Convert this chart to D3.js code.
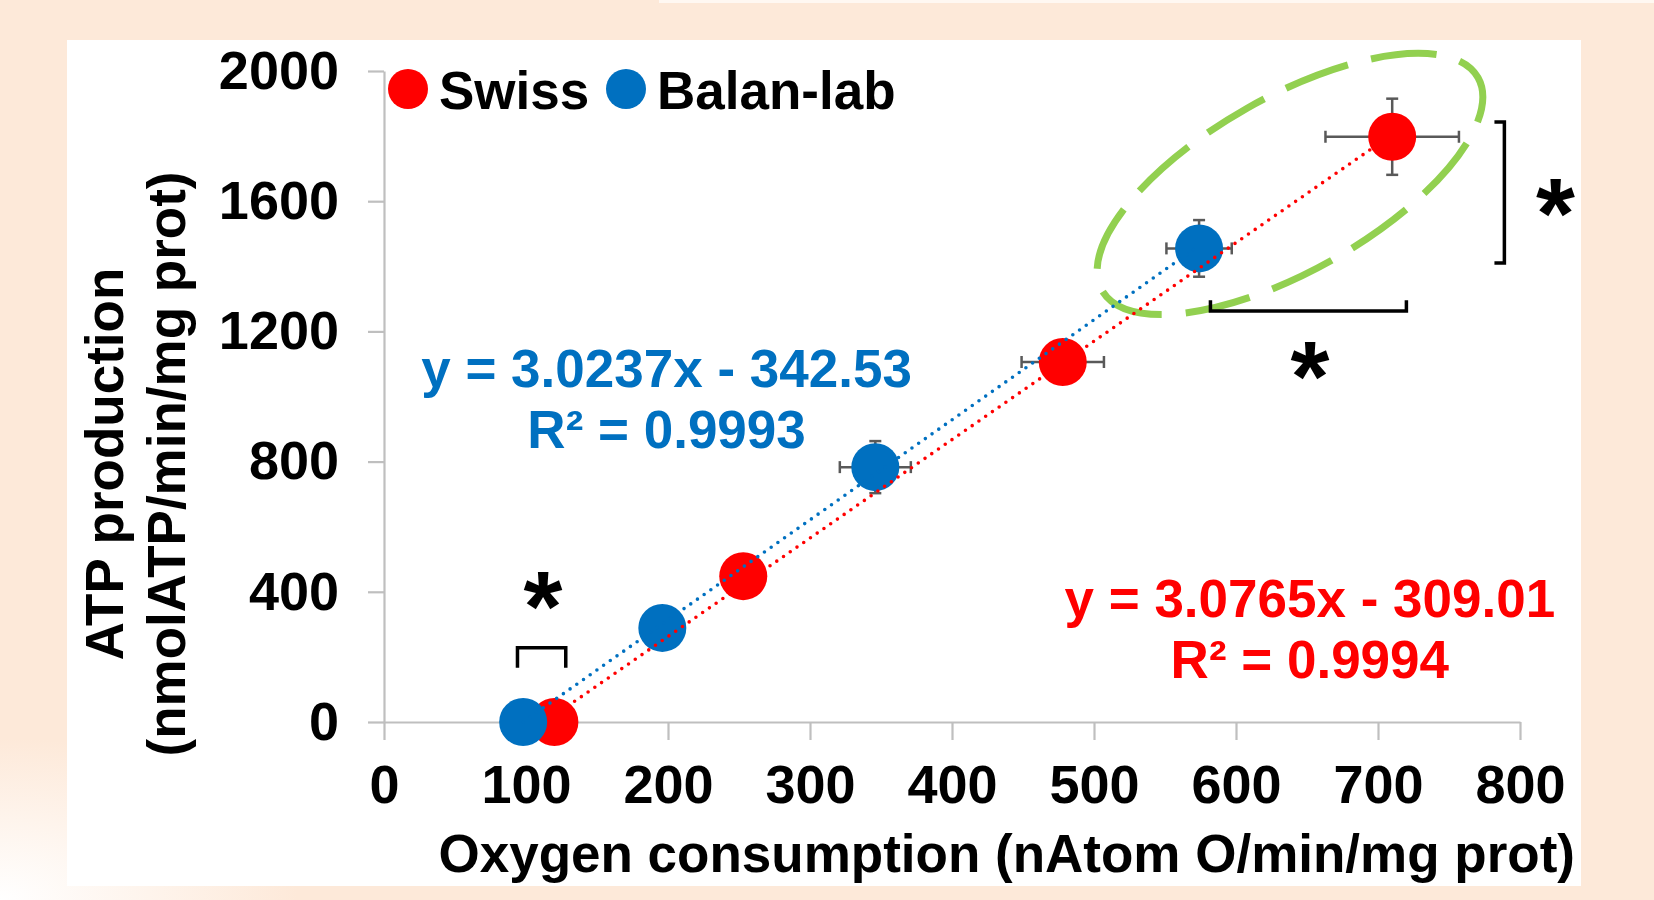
<!DOCTYPE html>
<html>
<head>
<meta charset="utf-8">
<script src="https://cdn.jsdelivr.net/npm/d3@7"></script>
<style>
  body { margin: 0; background: #fde9d9; }
  svg { display: block; font-family: "Liberation Sans", Arial, sans-serif; font-weight: bold; }
</style>
</head>
<body>
<div id="container"></div>
<script>
///data
const swissX = [120, 253, 478, 710];
const swissY = [0, 448, 1106, 1798];
const swissXErr = [4, 8, 29, 47];
const swissYErr = [10, 20, 40, 117];

const balanX = [98, 196, 346, 574];
const balanY = [0, 289, 783, 1455];
const balanXErr = [4, 8, 25, 23];
const balanYErr = [10, 30, 80, 87];

const seriesNames = ["Swiss", "Balan-lab"];
const eqSwiss = ["y = 3.0765x - 309.01", "R² = 0.9994"];
const eqBalan = ["y = 3.0237x - 342.53", "R² = 0.9993"];

const xTicks = [0, 100, 200, 300, 400, 500, 600, 700, 800];
const yTicks = [0, 400, 800, 1200, 1600, 2000];

//significance marks, in data units
const brackets = [
  {x1: 94, x2: 128, y1: 167, y2: 228, dir: "up"},
  {x1: 582, x2: 720, y1: 1296, y2: 1263, dir: "down"},
  {x1: 782, x2: 789, y1: 1843, y2: 1410, dir: "right"}
];
const stars = [[112, 396], [652, 1103], [825, 1604]];

///size
let w = 1654,
h = 900,
fs = "54px",
fsTitle = "53px";

const red = "#ff0000",
blue = "#0070c0",
axisGrey = "#bfbfbf",
errGrey = "#595959";

let svg = d3.select("#container").
append("svg").
attr("width", w).
attr("height", h);

///background + white panel
let defs = svg.append("defs");
let grad = defs.append("radialGradient").
attr("id", "bg").
attr("cx", 0).attr("cy", 1).attr("r", 0.18);
grad.append("stop").attr("offset", 0).attr("stop-color", "#ffffff");
grad.append("stop").attr("offset", 1).attr("stop-color", "#fde9d9");
svg.append("rect").attr("width", w).attr("height", h).attr("fill", "url(#bg)");
svg.append("rect").attr("x", 659).attr("width", w - 659).attr("height", 3).attr("fill", "#fff8f2");
svg.append("rect").
attr("x", 67).attr("y", 40).
attr("width", 1514).attr("height", 846).
attr("fill", "#ffffff");

///scales
let xScale = d3.scaleLinear().domain([0, 800]).range([384, 1520]);
let yScale = d3.scaleLinear().domain([0, 2000]).range([722, 71]);

///axes
let xMinor = d3.axisBottom(xScale).tickValues(d3.range(50, 800, 100)).tickSize(13).tickFormat("");
let xAxis = d3.axisBottom(xScale).tickValues(xTicks).tickSize(18).tickPadding(25).tickSizeOuter(0).tickFormat(d3.format("d"));
let yMinor = d3.axisLeft(yScale).tickValues(d3.range(0, 2001, 80).filter(d => d % 400 != 0)).tickSize(12).tickFormat("");
let yAxis = d3.axisLeft(yScale).tickValues(yTicks).tickSize(16).tickPadding(29).tickSizeOuter(0).tickFormat(d3.format("d"));

let gx = svg.append("g").attr("transform", "translate(0," + yScale(0) + ")");
gx.call(xMinor);
gx.call(xAxis);
let gy = svg.append("g").attr("transform", "translate(" + xScale(0) + ",0)");
gy.call(yMinor);
gy.call(yAxis);

svg.selectAll(".domain, .tick line").
attr("stroke", axisGrey).
attr("stroke-width", 2.2);
svg.selectAll(".tick text").
attr("fill", "#000").
style("font-size", fs).
style("font-family", "Liberation Sans, Arial, sans-serif").
style("font-weight", "bold");

///axis titles
svg.append("text").
attr("x", 1575).attr("y", 872).
attr("text-anchor", "end").
style("font-size", fsTitle).
text("Oxygen consumption (nAtom O/min/mg prot)");

let yTitle = svg.append("g").attr("transform", "translate(0,464)");
yTitle.append("text").
attr("transform", "translate(123,0) rotate(-90)").
attr("text-anchor", "middle").
style("font-size", fsTitle).
text("ATP production");
yTitle.append("text").
attr("transform", "translate(185,0) rotate(-90)").
attr("text-anchor", "middle").
style("font-size", fsTitle).
text("(nmolATP/min/mg prot)");

///least squares fit of each series
let fit = (xs, ys) => {
  let mx = d3.mean(xs), my = d3.mean(ys);
  let sxy = d3.sum(xs, (x, i) => (x - mx) * (ys[i] - my));
  let sxx = d3.sum(xs, x => (x - mx) * (x - mx));
  let m = sxy / sxx;
  return {m: m, b: my - m * mx};
};

let series = [
  {name: seriesNames[0], color: red, x: swissX, y: swissY, ex: swissXErr, ey: swissYErr},
  {name: seriesNames[1], color: blue, x: balanX, y: balanY, ex: balanXErr, ey: balanYErr}
];
series.forEach(s => {
  s.pts = s.x.map((x, i) => ({x: x, y: s.y[i], ex: s.ex[i], ey: s.ey[i]}));
  s.fit = fit(s.x, s.y);
});

///ellipse around the top points
let ellC = [638, 1653];
svg.append("ellipse").
attr("transform", "translate(" + xScale(ellC[0]) + "," + yScale(ellC[1]) + ") rotate(-29.5)").
attr("rx", 216).attr("ry", 87).
attr("fill", "none").
attr("stroke", "#92d050").
attr("stroke-width", 7).
attr("stroke-dasharray", "66 24").
attr("stroke-dashoffset", 20);

///error bars
let cap = 6;
series.forEach(s => {
  let g = svg.append("g").attr("stroke", errGrey).attr("stroke-width", 2.5);
  s.pts.forEach(d => {
    let cx = xScale(d.x), cy = yScale(d.y);
    let x0 = xScale(d.x - d.ex), x1 = xScale(d.x + d.ex);
    let y0 = yScale(d.y - d.ey), y1 = yScale(d.y + d.ey);
    g.append("line").attr("x1", x0).attr("x2", x1).attr("y1", cy).attr("y2", cy);
    g.append("line").attr("x1", x0).attr("x2", x0).attr("y1", cy - cap).attr("y2", cy + cap);
    g.append("line").attr("x1", x1).attr("x2", x1).attr("y1", cy - cap).attr("y2", cy + cap);
    g.append("line").attr("x1", cx).attr("x2", cx).attr("y1", y0).attr("y2", y1);
    g.append("line").attr("x1", cx - cap).attr("x2", cx + cap).attr("y1", y0).attr("y2", y0);
    g.append("line").attr("x1", cx - cap).attr("x2", cx + cap).attr("y1", y1).attr("y2", y1);
  });
});

///markers
series.forEach(s => {
  svg.append("g").selectAll("circle").
  data(s.pts).
  enter().
  append("circle").
  attr("cx", d => xScale(d.x)).
  attr("cy", d => yScale(d.y)).
  attr("r", 24).
  attr("fill", s.color);
});

///dotted trendlines
series.forEach(s => {
  let xa = Math.max(d3.min(s.x), -s.fit.b / s.fit.m);
  let xb = d3.max(s.x);
  svg.append("line").
  attr("x1", xScale(xa)).attr("y1", yScale(s.fit.m * xa + s.fit.b)).
  attr("x2", xScale(xb)).attr("y2", yScale(s.fit.m * xb + s.fit.b)).
  attr("stroke", s.color).
  attr("stroke-width", 3.6).
  attr("stroke-linecap", "round").
  attr("stroke-dasharray", "0 8.2");
});

///equations
let eqs = [
  {lines: eqBalan, color: blue, x: 199, y: 1029},
  {lines: eqSwiss, color: red, x: 652, y: 323}
];
eqs.forEach(e => {
  e.lines.forEach((t, i) => {
    svg.append("text").
    attr("x", xScale(e.x)).
    attr("y", yScale(e.y) + i * 61).
    attr("text-anchor", "middle").
    attr("fill", e.color).
    style("font-size", "53px").
    text(t);
  });
});

///legend
let legend = svg.append("g").attr("transform", "translate(408,89)");
let legX = [0, 218];
series.forEach((s, i) => {
  legend.append("circle").attr("cx", legX[i]).attr("cy", 0).attr("r", 20).attr("fill", s.color);
  legend.append("text").attr("x", legX[i] + 31).attr("y", 20).style("font-size", fsTitle).text(s.name);
});

///brackets and stars
let bk = 3.5;
brackets.forEach(b => {
  let x1 = xScale(b.x1), x2 = xScale(b.x2), y1 = yScale(b.y1), y2 = yScale(b.y2);
  let p;
  if (b.dir == "right") p = "M" + x1 + "," + y1 + "H" + x2 + "V" + y2 + "H" + x1;else
  p = "M" + x1 + "," + y1 + "V" + y2 + "H" + x2 + "V" + y1;
  svg.append("path").attr("d", p).attr("fill", "none").attr("stroke", "#000").attr("stroke-width", bk);
});
svg.selectAll(".star").
data(stars).
enter().
append("text").
attr("class", "star").
attr("x", d => xScale(d[0])).
attr("y", d => yScale(d[1]) + 48).
attr("text-anchor", "middle").
style("font-size", "100px").
text("*");
</script>
</body>
</html>
